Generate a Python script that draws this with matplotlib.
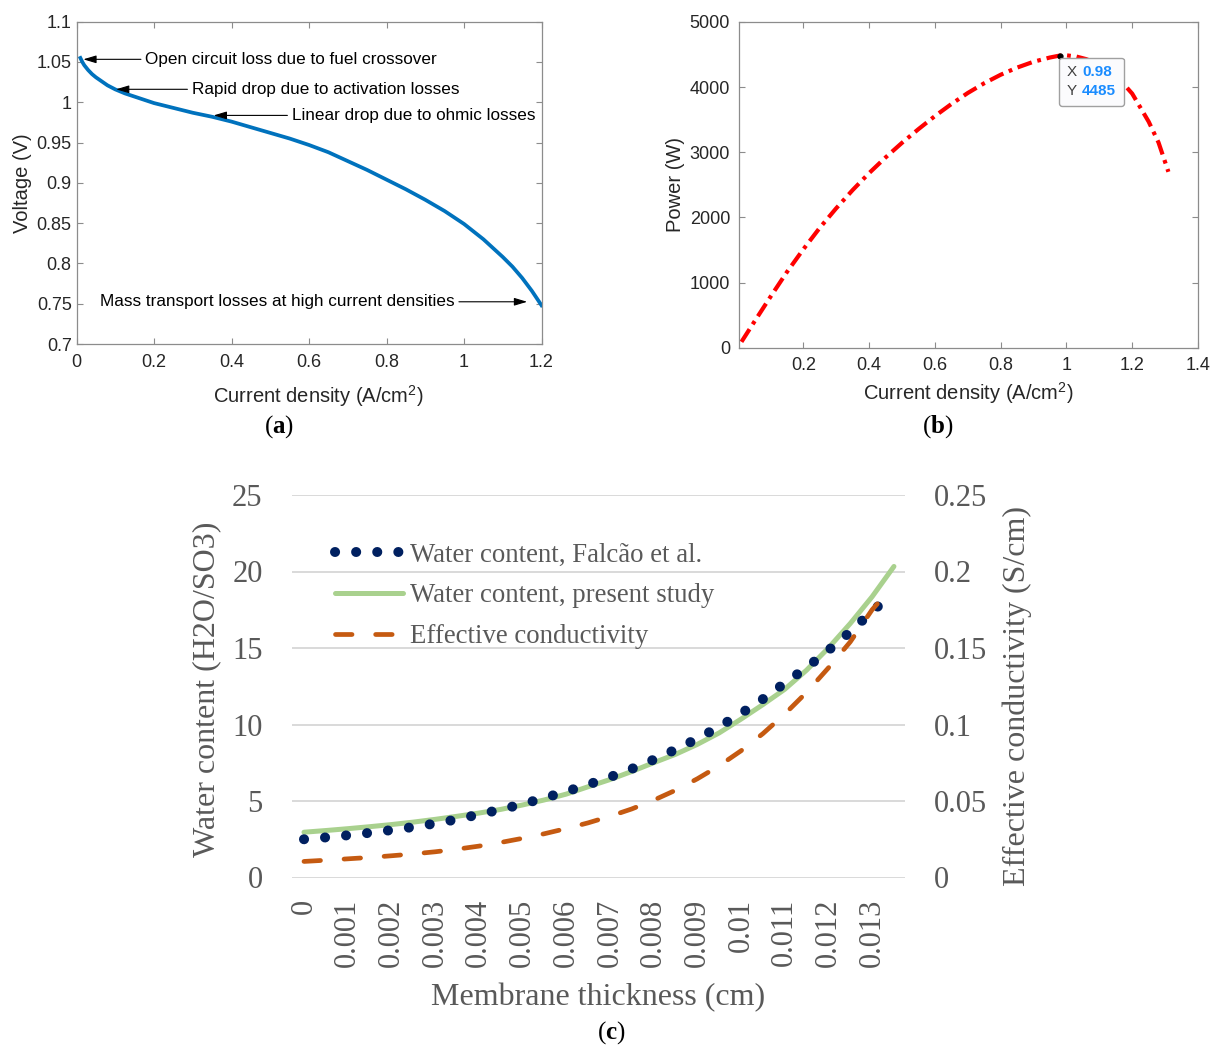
import matplotlib
matplotlib.use("Agg")
import matplotlib.pyplot as plt
from matplotlib.offsetbox import TextArea, HPacker, VPacker, AnnotationBbox

plt.rcParams["font.family"] = ["Liberation Sans", "DejaVu Sans"]
plt.rcParams["mathtext.fontset"] = "custom"
plt.rcParams["mathtext.rm"] = "Liberation Sans"
plt.rcParams["mathtext.bf"] = "Liberation Serif:bold"

# ---- (a) polarisation curve
current_a = [0.01, 0.015, 0.02, 0.03, 0.04, 0.05, 0.065, 0.08, 0.1, 0.125, 0.15, 0.2,
             0.25, 0.3, 0.35, 0.4, 0.45, 0.5, 0.55, 0.6, 0.65, 0.7, 0.75, 0.8, 0.85,
             0.9, 0.95, 1.0, 1.05, 1.1, 1.125, 1.15, 1.175, 1.2]
voltage_a = [1.055, 1.050, 1.046, 1.040, 1.035, 1.031, 1.026, 1.021, 1.016, 1.011,
             1.007, 0.999, 0.993, 0.987, 0.982, 0.976, 0.969, 0.962, 0.955, 0.947,
             0.938, 0.927, 0.916, 0.904, 0.892, 0.879, 0.865, 0.849, 0.830, 0.808,
             0.796, 0.782, 0.766, 0.748]
a_xticks = [0, 0.2, 0.4, 0.6, 0.8, 1.0, 1.2]
a_xlabels = ["0", "0.2", "0.4", "0.6", "0.8", "1", "1.2"]
a_yticks = [0.7, 0.75, 0.8, 0.85, 0.9, 0.95, 1.0, 1.05, 1.1]
a_ylabels = ["0.7", "0.75", "0.8", "0.85", "0.9", "0.95", "1", "1.05", "1.1"]
notes_text = ["Open circuit loss due to fuel crossover",
              "Rapid drop due to activation losses",
              "Linear drop due to ohmic losses",
              "Mass transport losses at high current densities"]
notes_tip = [(0.0175, 1.0533), (0.102, 1.0161), (0.354, 0.9837), (1.163, 0.7524)]
notes_at = [(0.177, 1.0533), (0.297, 1.0161), (0.555, 0.9837), (0.061, 0.7524)]

# ---- (b) power curve
current_b = [0.012, 0.05, 0.1, 0.15, 0.2, 0.25, 0.3, 0.35, 0.4, 0.45, 0.5, 0.55, 0.6,
             0.65, 0.7, 0.75, 0.8, 0.85, 0.9, 0.95, 0.98, 1.0, 1.03, 1.06, 1.1, 1.15,
             1.2, 1.25, 1.28, 1.31]
power_b = [90, 390, 780, 1160, 1510, 1840, 2140, 2420, 2680, 2920, 3145, 3355, 3555,
           3740, 3910, 4060, 4190, 4300, 4390, 4455, 4485, 4488, 4470, 4430, 4350,
           4185, 3900, 3470, 3150, 2700]
b_xticks = [0.2, 0.4, 0.6, 0.8, 1.0, 1.2, 1.4]
b_xlabels = ["0.2", "0.4", "0.6", "0.8", "1", "1.2", "1.4"]
b_yticks = [0, 1000, 2000, 3000, 4000, 5000]
peak_x, peak_y = 0.98, 4485

# ---- (c) membrane water content / conductivity
thickness_falcao = [0, 0.0005, 0.001, 0.0015, 0.002, 0.0025, 0.003, 0.0035, 0.004,
                    0.0045, 0.005, 0.0055, 0.006, 0.0065, 0.007, 0.0075, 0.008,
                    0.0085, 0.009, 0.0095, 0.01, 0.0105, 0.011, 0.0115, 0.012,
                    0.0125, 0.013, 0.01337]
water_falcao = [2.50, 2.62, 2.76, 2.92, 3.10, 3.30, 3.53, 3.80, 4.12, 4.44, 4.80,
                5.20, 5.62, 6.07, 6.56, 7.10, 7.70, 8.36, 9.07, 9.85, 10.72, 11.66,
                12.70, 13.72, 14.85, 16.05, 17.40, 18.28]
thickness_present = [0, 0.0005, 0.001, 0.0015, 0.002, 0.0025, 0.003, 0.0035, 0.004,
                     0.0045, 0.005, 0.0055, 0.006, 0.0065, 0.007, 0.0075, 0.008,
                     0.0085, 0.009, 0.0095, 0.01, 0.0105, 0.011, 0.0115, 0.012,
                     0.0125, 0.013, 0.0135]
water_present = [2.96, 3.07, 3.19, 3.32, 3.46, 3.62, 3.80, 4.00, 4.21, 4.45, 4.74,
                 5.07, 5.45, 5.93, 6.40, 6.93, 7.50, 8.05, 8.70, 9.45, 10.35, 11.30,
                 12.30, 13.55, 15.00, 16.60, 18.35, 20.33]
thickness_cond = [0, 0.0005, 0.001, 0.0015, 0.002, 0.0025, 0.003, 0.0035, 0.004,
                  0.0045, 0.005, 0.0055, 0.006, 0.0065, 0.007, 0.0075, 0.008,
                  0.0085, 0.009, 0.0095, 0.01, 0.0105, 0.011, 0.0115, 0.012,
                  0.0125, 0.013, 0.01337]
conductivity = [0.0105, 0.0113, 0.0122, 0.0131, 0.0142, 0.0154, 0.0168, 0.0185,
                0.0205, 0.0229, 0.0256, 0.0286, 0.0320, 0.0357, 0.0400, 0.0448,
                0.0505, 0.0570, 0.0645, 0.0730, 0.0828, 0.0940, 0.1068, 0.1210,
                0.1370, 0.1540, 0.1750, 0.1870]
c_xticks = [0, 0.001, 0.002, 0.003, 0.004, 0.005, 0.006, 0.007, 0.008, 0.009,
            0.01, 0.011, 0.012, 0.013]
c_xlabels = ["0", "0.001", "0.002", "0.003", "0.004", "0.005", "0.006", "0.007",
             "0.008", "0.009", "0.01", "0.011", "0.012", "0.013"]
c_yticks = [0, 5, 10, 15, 20, 25]
c_y2ticks = [0, 0.05, 0.1, 0.15, 0.2, 0.25]
c_y2labels = ["0", "0.05", "0.1", "0.15", "0.2", "0.25"]
series_names = ["Water content, Falcão et al.", "Water content, present study",
                "Effective conductivity"]

W, H = 1211, 1048
fig = plt.figure(figsize=(W / 100, H / 100), dpi=100)


def px_axes(left, top, right, bottom):
    return fig.add_axes([left / W, 1 - bottom / H, (right - left) / W, (bottom - top) / H])


def matlab_style(ax, ypad):
    for s in ax.spines.values():
        s.set_color("#8c8c8c")
        s.set_linewidth(0.9)
    ax.tick_params(direction="in", length=4, width=0.8, color="#8c8c8c",
                   top=True, right=True, labelsize=13, labelcolor="#262626")
    ax.tick_params(axis="x", pad=7)
    ax.tick_params(axis="y", pad=ypad)


# (a)
ax_a = px_axes(76.5, 21.7, 541.5, 344)
ax_a.plot(current_a, voltage_a, color="#0072BD", lw=2.7, solid_joinstyle="round")
ax_a.set_xlim(0, 1.2)
ax_a.set_ylim(0.7, 1.1)
ax_a.set_xticks(a_xticks, a_xlabels)
ax_a.set_yticks(a_yticks, a_ylabels)
matlab_style(ax_a, 3.5)
for txt, tip, at in zip(notes_text, notes_tip, notes_at):
    ax_a.annotate(txt, xy=tip, xytext=at, ha="left", va="center", fontsize=12.3,
                  color="black",
                  arrowprops=dict(arrowstyle="-|>,head_length=0.6,head_width=0.18",
                                  mutation_scale=13, color="black", lw=0.8,
                                  shrinkA=1, shrinkB=0))
ax_a.set_xlabel("Current density (A/cm$^{2}$)", fontsize=14.5, color="#262626")
ax_a.set_ylabel("Voltage (V)", fontsize=14.5, color="#262626")
ax_a.xaxis.set_label_coords(0.519, -0.161)
ax_a.xaxis.label.set_va("center")
ax_a.yaxis.set_label_coords(-0.117, 0.5)
ax_a.yaxis.label.set_va("center")

# (b)
ax_b = px_axes(738.5, 22, 1198, 347.7)
ax_b.plot(current_b, power_b, color="red", lw=3, linestyle=(0, (3.6, 1.4, 0.9, 1.4)))
ax_b.plot(peak_x, peak_y, "o", color="black", ms=3.5)
ax_b.set_xlim(0.003, 1.4)
ax_b.set_ylim(0, 5000)
ax_b.set_xticks(b_xticks, b_xlabels)
ax_b.set_yticks(b_yticks, [str(v) for v in b_yticks])
matlab_style(ax_b, 6)
ax_b.set_xlabel("Current density (A/cm$^{2}$)", fontsize=14.5, color="#262626")
ax_b.set_ylabel("Power (W)", fontsize=14.5, color="#262626")
ax_b.xaxis.set_label_coords(0.4995, -0.139)
ax_b.xaxis.label.set_va("center")
ax_b.yaxis.set_label_coords(-0.138, 0.5)
ax_b.yaxis.label.set_va("center")

tip_rows = []
for name, val in [("X", "0.98"), ("Y", str(peak_y))]:
    tip_rows.append(HPacker(children=[
        TextArea(name, textprops=dict(color="#404040", fontsize=11)),
        TextArea(val, textprops=dict(color="#1a8cff", fontsize=11, fontweight="bold"))],
        align="baseline", pad=0, sep=4))
tip_box = VPacker(children=tip_rows, align="left", pad=0, sep=3.5)
ab = AnnotationBbox(tip_box, (peak_x, peak_y), xybox=(4.7, -7), xycoords="data",
                    boxcoords="offset points", box_alignment=(0, 1),
                    bboxprops=dict(boxstyle="round,pad=0.55,rounding_size=0.2",
                                   fc="#fbfbfd", ec="#a0a0a0", lw=1.0))
ax_b.add_artist(ab)

# (c)
serif = "Liberation Serif"
grey = "#595959"
ax_c = px_axes(291.7, 495.0, 905, 877.5)
ax_c.plot(thickness_present, water_present, color="#A9D18E", lw=3.6,
          solid_capstyle="round", label=series_names[1], zorder=3)
ax_c.plot(thickness_falcao, water_falcao, color="#002060", lw=7.2,
          linestyle=(0, (0.01, 2.1)), dash_capstyle="round",
          label=series_names[0], zorder=4)
ax_c.set_xlim(-0.000281, 0.013753)
ax_c.set_ylim(0, 25)
ax_c.set_xticks(c_xticks, c_xlabels, rotation=90, fontfamily=serif, fontsize=22)
ax_c.set_yticks(c_yticks, [str(v) for v in c_yticks], fontfamily=serif, fontsize=22)
ax_c.tick_params(length=0, labelcolor=grey)
ax_c.tick_params(axis="x", pad=15.5)
ax_c.tick_params(axis="y", pad=21)
ax_c.yaxis.grid(True, color="#D9D9D9", lw=1.4)
ax_c.set_axisbelow(True)
for s in ax_c.spines.values():
    s.set_visible(False)

ax_c2 = ax_c.twinx()
ax_c2.plot(thickness_cond, conductivity, color="#C55A11", lw=3.4,
           linestyle=(0, (3.5, 5.0)), dash_capstyle="round", label=series_names[2])
ax_c2.set_ylim(0, 0.25)
ax_c2.set_yticks(c_y2ticks, c_y2labels, fontfamily=serif, fontsize=22)
ax_c2.tick_params(length=0, labelcolor=grey, pad=21)
for s in ax_c2.spines.values():
    s.set_visible(False)

ax_c.set_xlabel("Membrane thickness (cm)", fontfamily=serif, fontsize=23, color=grey)
ax_c.set_ylabel("Water content (H2O/SO3)", fontfamily=serif, fontsize=23, color=grey)
ax_c2.set_ylabel("Effective conductivity (S/cm)", fontfamily=serif, fontsize=23,
                 color=grey)
ax_c.xaxis.set_label_coords(0.4994, -0.315)
ax_c.xaxis.label.set_va("center")
ax_c.yaxis.set_label_coords(-0.138, 0.493)
ax_c.yaxis.label.set_va("center")
ax_c2.yaxis.set_label_coords(1.1826, 0.475)
ax_c2.yaxis.label.set_va("center")

handles = [ax_c.lines[1], ax_c.lines[0], ax_c2.lines[0]]
leg = ax_c2.legend(handles, series_names, loc="upper left",
                   bbox_to_anchor=(0.0706, 0.876), frameon=False, borderpad=0,
                   borderaxespad=0, handlelength=2.54, handletextpad=0.26,
                   labelspacing=0.59, prop=dict(family=serif, size=19.3))
for t in leg.get_texts():
    t.set_color(grey)

# panel captions
for lab, x, y in [("a", 279, 427), ("b", 938, 427), ("c", 611, 1033)]:
    fig.text(x / W, 1 - y / H, "($\\mathbf{%s}$)" % lab, fontfamily=serif,
             fontsize=18, ha="center", va="center", color="black")

fig.savefig("out.png", dpi=100, facecolor="white")
